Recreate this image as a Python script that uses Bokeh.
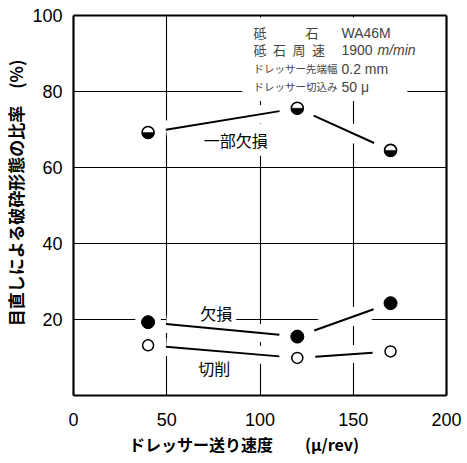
import math
from bokeh.plotting import figure
from bokeh.models import Label, FixedTicker, LinearAxis
from bokeh.core.properties import value
from bokeh.embed import file_html
from bokeh.resources import INLINE

# Dresser feed rate (μ/rev) and share of each fracture type (%)
feed = [40, 120, 170]
partial_loss = [69.2, 75.6, 64.5]   # 一部欠損
loss = [19.3, 15.5, 24.3]           # 欠損
cutting = [13.2, 9.9, 11.6]         # 切削

x_ticks = [0, 50, 100, 150, 200]
y_ticks = [20, 40, 60, 80, 100]

cond_names = ["砥\u3000\u3000\u3000石", "砥\u2002石\u2002周\u2002速", "ドレッサー先端幅", "ドレッサー切込み"]
cond_values = ["WA46M", "1900 m/min", "0.2 mm", "50 μ"]

W, H = 467, 463
L, R, T, B = 73, 21, 15, 68

JP = "Noto Sans CJK JP"
NUM = "Liberation Sans"

p = figure(width=W, height=H, x_range=(0, 200), y_range=(0, 100),
           output_backend="svg", toolbar_location=None,
           min_border_left=L, min_border_right=R, min_border_top=T, min_border_bottom=B)
p.background_fill_color = "white"
p.border_fill_color = "white"
p.outline_line_color = None

xa = p.below[0]
ya = p.left[0]

# frame drawn by the axis lines on all four sides
for side in ("right", "above"):
    p.add_layout(LinearAxis(ticker=FixedTicker(ticks=[]), major_label_standoff=0), side)

for ax in p.axis:
    ax.axis_line_color = "black"
    ax.axis_line_width = 2.2
    ax.major_tick_line_color = None
    ax.minor_tick_line_color = None

for ax in (xa, ya):
    ax.major_label_text_font = NUM
    ax.major_label_text_font_size = "18px"
    ax.major_label_text_color = "black"
    ax.axis_label_text_font = JP
    ax.axis_label_text_font_style = "bold"
    ax.axis_label_text_color = "black"
xa.ticker = FixedTicker(ticks=x_ticks)
ya.ticker = FixedTicker(ticks=y_ticks)
xa.major_label_standoff = 11
ya.major_label_standoff = 5

ya.axis_label = "\u2003\u2002目直しによる破砕形態の比率\u2003(%)"
ya.axis_label_text_font_size = "17px"
ya.axis_label_standoff = 1
xa.axis_label = "ドレッサー送り速度\u2003\u2003(μ/rev)\u2003\u2003"
xa.axis_label_text_font_size = "16px"
xa.axis_label_standoff = 3

p.xgrid.ticker = FixedTicker(ticks=[50, 100, 150])
p.ygrid.ticker = FixedTicker(ticks=[20, 40, 60, 80])
for g in (p.xgrid[0], p.ygrid[0]):
    g.grid_line_color = "black"
    g.grid_line_width = 1.1

# pixel scale of the frame, used to trim the connectors near the markers
sx = (W - L - R) / 200.0
sy = (H - T - B) / 100.0


def trimmed(xs, ys, gap):
    x0, y0, x1, y1 = [], [], [], []
    for i in range(len(xs) - 1):
        dx = (xs[i + 1] - xs[i]) * sx
        dy = (ys[i + 1] - ys[i]) * sy
        d = math.hypot(dx, dy)
        f = gap / d
        x0.append(xs[i] + (xs[i + 1] - xs[i]) * f)
        y0.append(ys[i] + (ys[i + 1] - ys[i]) * f)
        x1.append(xs[i + 1] - (xs[i + 1] - xs[i]) * f)
        y1.append(ys[i + 1] - (ys[i + 1] - ys[i]) * f)
    return x0, y0, x1, y1


# white panel behind the conditions block
p.quad(left=[90.5], right=[179], bottom=[77.5], top=[99.5],
       fill_color="white", line_color=None)

series = [partial_loss, loss, cutting]
segs = [trimmed(feed, s, 18) for s in series]

# white clearance under connectors and markers
for x0, y0, x1, y1 in segs:
    p.segment(x0, y0, x1, y1, line_color="white", line_width=18)
for s in series:
    p.scatter(feed, s, size=26, marker="circle", fill_color="white", line_color=None)

# curve labels
lab_x = [87, 76.5, 75.5]
lab_y = [67.3, 21.7, 7.3]
lab_t = ["一部欠損", "欠損", "切削"]
p.text(x=lab_x, y=lab_y, text=lab_t, text_font=value(JP), text_font_size="16px",
       text_align="center", text_baseline="middle", text_color="black",
       background_fill_color="white", padding=4)

# connectors
for x0, y0, x1, y1 in segs:
    p.segment(x0, y0, x1, y1, line_color="black", line_width=2)

# markers
p.scatter(feed, partial_loss, size=12, marker="circle", fill_color="white",
          line_color="black", line_width=1.6)
p.wedge(feed, partial_loss, radius=6, radius_units="screen",
        start_angle=math.pi, end_angle=2 * math.pi,
        fill_color="black", line_color="black", line_width=0.5)
p.scatter(feed, loss, size=13, marker="circle", fill_color="black", line_color="black")
p.scatter(feed, cutting, size=11, marker="circle", fill_color="white",
          line_color="black", line_width=1.5)


def put(cx, cy, text, **kw):
    # screen units of a Label count from the frame's lower-left corner
    p.add_layout(Label(x=cx - L, y=(H - B) - cy, x_units="screen", y_units="screen",
                       text=text, **kw))


# conditions block
rows_y = [32, 49, 68, 86]
for yy, nm, val in zip(rows_y, cond_names, cond_values):
    fs = "13px" if nm.startswith("砥") else "10.5px"
    put(253, yy, nm, text_font=JP, text_font_size=fs, text_baseline="middle")
    if "m/min" in val:
        num, unit = val.split(" ")
        put(341, yy, num, text_font=NUM, text_font_size="14px", text_baseline="middle")
        put(377, yy, unit, text_font=NUM, text_font_size="14px",
            text_font_style="italic", text_baseline="middle")
    else:
        put(341, yy, val, text_font=NUM, text_font_size="14px", text_baseline="middle")

open("out.html", "w").write(file_html(p, INLINE))
